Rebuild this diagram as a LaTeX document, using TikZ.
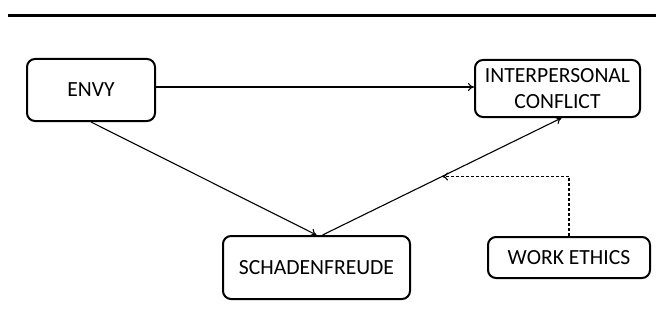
\documentclass[tikz,border=0pt]{standalone}
\usepackage{fontspec}
\setmainfont{Carlito}
\usetikzlibrary{arrows.meta}

\tikzset{
  factor/.style={draw, line width=1pt, rounded corners=4pt, align=center,
    font=\fontsize{10.8}{12.6}\selectfont, inner sep=2pt},
  link/.style={line width=0.55pt, -{To[length=3pt,width=4pt]}}
}

\begin{document}
\begin{tikzpicture}[x=0.5pt,y=-0.5pt]
\useasboundingbox (0,0) rectangle (656,326);
\draw[line width=1.5pt] (8,15.5) -- (656,15.5);

\node[factor, minimum width=64pt, minimum height=31pt] (envy) at (91,90) {ENVY};
\node[factor, minimum width=82.5pt, minimum height=28.5pt] (conflict) at (557.5,88.5) {INTERPERSONAL\\CONFLICT};
\node[factor, minimum width=93.5pt, minimum height=31.5pt] (schaden) at (316.5,267.5) {SCHADENFREUDE};
\node[factor, minimum width=81pt, minimum height=20.5pt] (ethics) at (569,257.5) {WORK ETHICS};

\draw[link] (envy.east |- 0,87) -- (conflict.west |- 0,87);
\draw[link] (envy.south) -- (schaden.north);
\draw[link] ([xshift=3]schaden.north) -- coordinate[pos=0.5] (mod) ([xshift=2]conflict.south);
\draw[link, dash pattern=on 1.5pt off 1pt] (ethics.north) |- (mod);
\end{tikzpicture}
\end{document}
